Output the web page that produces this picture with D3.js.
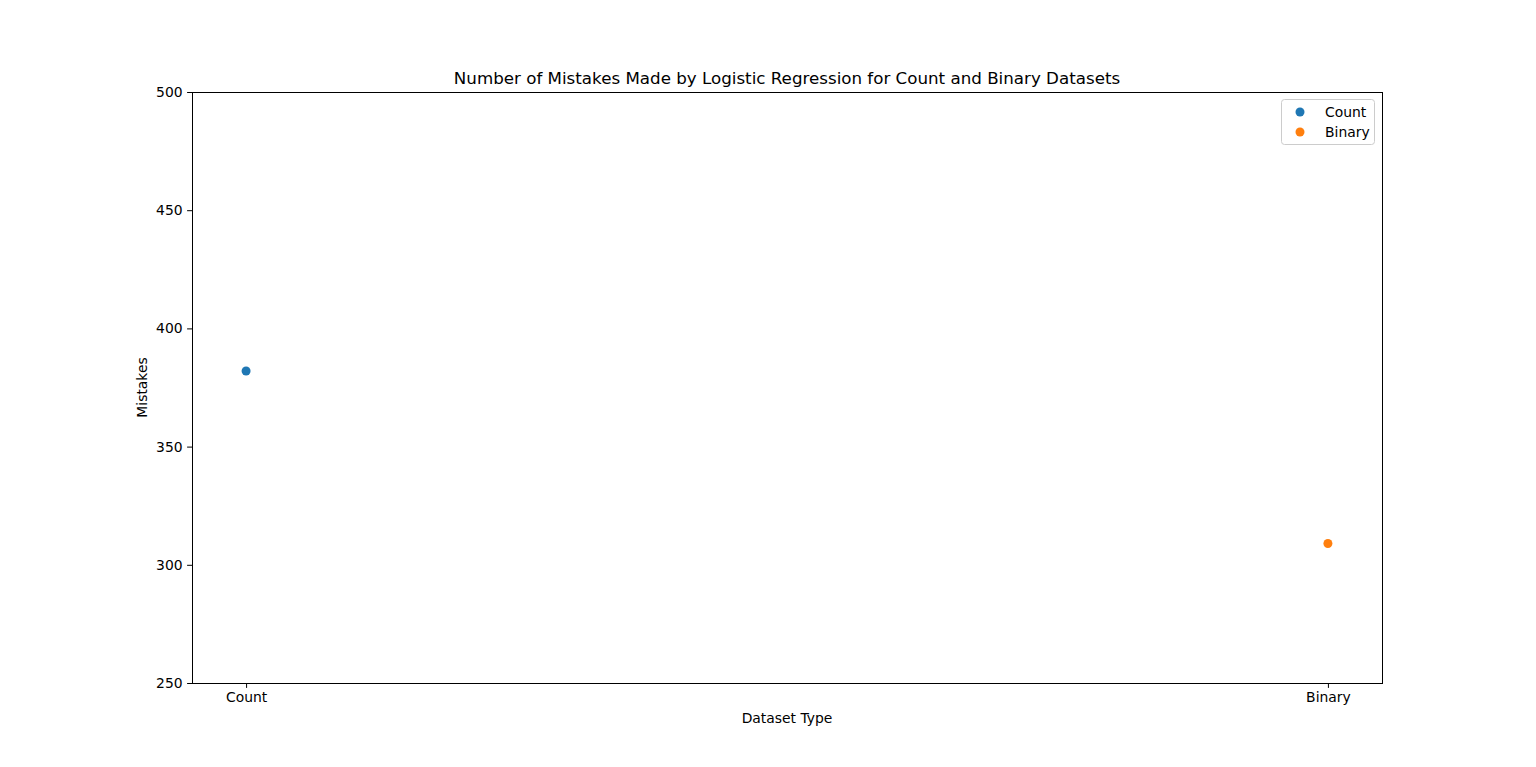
<!DOCTYPE html>
<html><head><meta charset="utf-8">
<script src="https://cdn.jsdelivr.net/npm/d3@7"></script>
<style>body{margin:0;background:#fff}svg{display:block}text{font-family:"DejaVu Sans",sans-serif}</style>
</head><body>
<script>
const categories = ["Count", "Binary"];
const mistakes = [382, 309];
const colors = ["#1f77b4", "#ff7f0e"];
const yTicks = [250, 300, 350, 400, 450, 500];

const W = 1536, H = 767;
const m = {l:192, r:1382, t:92, b:683};
const FS = 13.9;
const svg = d3.select("body").append("svg").attr("width", W).attr("height", H);

const x = d3.scaleLinear().domain([-0.05, 1.05]).range([m.l, m.r]);
const y = d3.scaleLinear().domain([250, 500]).range([m.b, m.t]);

// points
svg.selectAll("circle.pt").data(categories).enter().append("circle")
  .attr("class","pt")
  .attr("cx", (d,i) => x(i)).attr("cy", (d,i) => y(mistakes[i]))
  .attr("r", 4.5).attr("fill", (d,i) => colors[i]);

// axes
const xAxis = d3.axisBottom(x).tickValues(categories.map((d,i)=>i)).tickFormat(i => categories[i]).tickSize(4.9).tickPadding(4.5);
const gx = svg.append("g").attr("transform", `translate(0,${m.b})`).call(xAxis);
const yAxis = d3.axisLeft(y).tickValues(yTicks).tickSize(4.9).tickPadding(4.5);
const gy = svg.append("g").attr("transform", `translate(${m.l},0)`).call(yAxis);
[gx, gy].forEach(g => {
  g.select(".domain").remove();
  g.selectAll("text").attr("font-size", FS).attr("fill", "#000").style("font-family", '"DejaVu Sans",sans-serif');
  g.selectAll("line").attr("stroke", "#000").attr("stroke-width", 1);
});
gx.selectAll("text").attr("dy", "0.71em");

svg.append("rect").attr("x", m.l+0.5).attr("y", m.t+0.5).attr("width", m.r-m.l).attr("height", m.b-m.t)
  .attr("fill","none").attr("stroke","#000").attr("stroke-width",1);

// labels
svg.append("text").attr("x", (m.l+m.r)/2).attr("y", 84).attr("text-anchor","middle")
  .attr("font-size", 16.7).text("Number of Mistakes Made by Logistic Regression for Count and Binary Datasets");
svg.append("text").attr("x", (m.l+m.r)/2).attr("y", 723).attr("text-anchor","middle")
  .attr("font-size", FS).text("Dataset Type");
svg.append("text").attr("transform", `translate(147,${(m.t+m.b)/2}) rotate(-90)`).attr("text-anchor","middle")
  .attr("font-size", FS).text("Mistakes");

// legend
const lg = svg.append("g");
lg.append("rect").attr("x", 1281.5).attr("y", 99.5).attr("width", 93).attr("height", 45).attr("rx", 3)
  .attr("fill", "#fff").attr("fill-opacity", 0.8).attr("stroke", "#ccc");
categories.forEach((c,i) => {
  lg.append("circle").attr("cx", 1300).attr("cy", 112 + i*20).attr("r", 4.5).attr("fill", colors[i]);
  lg.append("text").attr("x", 1325).attr("y", 112 + i*20).attr("dy", "0.35em").attr("font-size", FS).text(c);
});
</script>
</body></html>
